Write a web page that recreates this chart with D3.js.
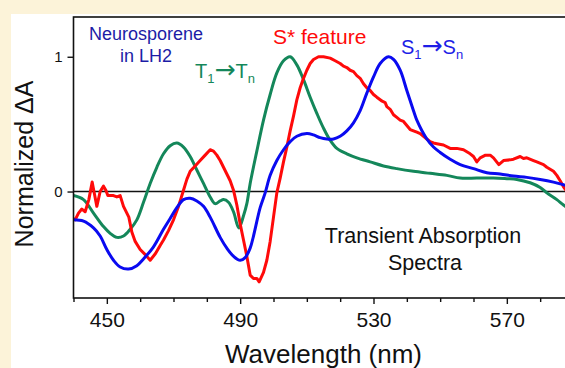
<!DOCTYPE html>
<html>
<head>
<meta charset="utf-8">
<script src="https://cdn.jsdelivr.net/npm/d3@7"></script>
<style>
  html, body { margin: 0; padding: 0; background: #FCF3D9; }
  svg { display: block; }
  text { font-family: "Liberation Sans", Arial, sans-serif; }
</style>
</head>
<body>
<svg id="chart" width="565" height="368"></svg>
<script>
// Wavelength (nm) / normalized ΔA pairs for each transient spectrum
const blueWl = [440,443,446,448,450,452,454,456.5,459,461,464,467,469,471,473,475,477,479,481,484,486,488,490,491.5,493,494,496,497.5,499,501,503,505,507,510,512,514,516,518,520,522,524,526,528,530,532,534.5,536,538,540,542,543,546,548,550,553,556,560,564,568,572,576,580,584,587,590];
const blueVal = [-0.21,-0.22,-0.27,-0.33,-0.43,-0.51,-0.56,-0.575,-0.55,-0.50,-0.41,-0.28,-0.20,-0.12,-0.06,-0.05,-0.07,-0.11,-0.19,-0.34,-0.42,-0.48,-0.51,-0.49,-0.42,-0.33,-0.12,-0.01,0.12,0.23,0.31,0.37,0.41,0.43,0.42,0.40,0.39,0.39,0.41,0.45,0.51,0.60,0.73,0.85,0.95,1.00,0.98,0.90,0.75,0.60,0.53,0.39,0.33,0.29,0.24,0.20,0.17,0.14,0.13,0.115,0.105,0.09,0.07,0.05,0.03];

const greenWl = [440,443,446,449,451,453,455,457,459,461,463,465,467,469,471,473,475,477,479,481,482.5,484,485,486.5,488,489.6,491,492,493,495,497,499,501,503,505,507,509,511,513,515,517,519,522,525,529,533,537,542,547,552,556,561,566,570,573,577,580,582,585,587,590];
const greenVal = [-0.03,-0.06,-0.16,-0.26,-0.31,-0.34,-0.33,-0.28,-0.21,-0.08,0.06,0.18,0.28,0.34,0.36,0.33,0.26,0.16,0.06,-0.04,-0.09,-0.07,-0.06,-0.08,-0.15,-0.27,-0.18,-0.09,0.06,0.30,0.53,0.72,0.88,0.97,1.00,0.94,0.83,0.70,0.58,0.47,0.38,0.32,0.28,0.25,0.22,0.19,0.17,0.15,0.135,0.12,0.10,0.10,0.10,0.095,0.09,0.065,0.03,-0.01,-0.06,-0.10,-0.15];

const redWl = [440,440.5,441.5,442.5,443.5,444.6,445.6,446.3,447,448,449,449.7,450.3,452,453,454,455,456.6,457.5,458.5,460,461.6,463,464.6,466,467,468.5,470,471.5,473,474,475,476.5,478,479.5,481,482,483,484,485,486,487,488,489,490,491,492,493,494,495,495.7,497,498,499,500,501,502,503,504,505,506,507,508,509,510,511,512,513.5,515,517,518.5,520,521,522,523,524,525,526,527,528,529,530,531,532.6,533.5,534,535,536,537,538,539,540,541,542,543,544,545,546,547,548,549,551,553,555,557,559,560,561,562,563.6,565,566,567.6,569,571,572,574,575,576,578,579,581,582,584,585,586,587,588,590];
const redVal = [-0.20,-0.21,-0.16,-0.13,-0.15,-0.06,0.07,-0.02,-0.11,0.00,0.04,0.01,-0.03,-0.03,-0.04,-0.03,-0.11,-0.19,-0.30,-0.37,-0.43,-0.47,-0.51,-0.46,-0.40,-0.36,-0.29,-0.21,-0.11,0.01,0.09,0.15,0.19,0.23,0.27,0.31,0.30,0.27,0.23,0.18,0.13,0.08,0.01,-0.10,-0.24,-0.36,-0.48,-0.62,-0.645,-0.645,-0.67,-0.60,-0.51,-0.37,-0.19,-0.01,0.10,0.22,0.33,0.45,0.56,0.68,0.77,0.84,0.90,0.95,0.98,1.00,1.00,0.99,0.97,0.95,0.93,0.92,0.90,0.89,0.86,0.84,0.80,0.77,0.75,0.72,0.70,0.67,0.66,0.63,0.61,0.57,0.55,0.53,0.52,0.49,0.46,0.45,0.44,0.43,0.41,0.39,0.37,0.36,0.355,0.345,0.32,0.32,0.31,0.28,0.26,0.22,0.25,0.27,0.27,0.25,0.20,0.23,0.235,0.24,0.26,0.245,0.25,0.23,0.22,0.20,0.18,0.15,0.12,0.08,0.035,0.0,-0.04];

const xMajorTicks = [450, 490, 530, 570];
const xMinorTicks = [440, 460, 470, 480, 500, 510, 520, 540, 550, 560, 580, 590];
const yTicks = [0, 1];

const svg = d3.select("#chart");

// white panel behind the figure
svg.append("rect")
  .attr("x", 11).attr("y", 14)
  .attr("width", 565).attr("height", 368)
  .attr("fill", "#ffffff");

const plotL = 73.5, plotR = 573.5, plotT = 17, plotB = 298;
const x = d3.scaleLinear().domain([440, 590]).range([plotL, plotR]);
const y = d3.scaleLinear().domain([-0.79, 1.295]).range([plotB, plotT]);

svg.append("defs").append("clipPath").attr("id", "plotClip")
  .append("rect").attr("x", plotL).attr("y", plotT)
  .attr("width", plotR - plotL).attr("height", plotB - plotT);

// zero baseline
svg.append("line")
  .attr("x1", plotL).attr("x2", plotR)
  .attr("y1", y(0)).attr("y2", y(0))
  .attr("stroke", "#111").attr("stroke-width", 1.4);

const plot = svg.append("g").attr("clip-path", "url(#plotClip)");

function drawSeries(wl, vals, color, curve) {
  const pts = wl.map((w, i) => [w, vals[i]]);
  const line = d3.line().x(d => x(d[0])).y(d => y(d[1])).curve(curve);
  plot.append("path")
    .datum(pts)
    .attr("d", line)
    .attr("fill", "none")
    .attr("stroke", color)
    .attr("stroke-width", 3)
    .attr("stroke-linejoin", "round");
}

drawSeries(greenWl, greenVal, "#14875A", d3.curveCatmullRom);
drawSeries(redWl, redVal, "#FF0A0A", d3.curveLinear);
drawSeries(blueWl, blueVal, "#0A0AF0", d3.curveCatmullRom);

// frame
svg.append("rect")
  .attr("x", plotL).attr("y", plotT)
  .attr("width", plotR - plotL).attr("height", plotB - plotT)
  .attr("fill", "none").attr("stroke", "#111").attr("stroke-width", 1.6);

// x axis: major labelled ticks
const xAxis = svg.append("g")
  .attr("transform", `translate(0,${plotB})`)
  .call(d3.axisBottom(x).tickValues(xMajorTicks).tickSize(6).tickSizeOuter(0).tickPadding(8).tickFormat(d3.format("d")));
xAxis.select(".domain").remove();
xAxis.selectAll("line").attr("stroke", "#111").attr("stroke-width", 1.4);
xAxis.selectAll("text").attr("font-size", 21).attr("fill", "#111")
  .attr("font-family", "Liberation Sans, Arial, sans-serif");

// x axis: minor ticks
const xMinor = svg.append("g")
  .attr("transform", `translate(0,${plotB})`)
  .call(d3.axisBottom(x).tickValues(xMinorTicks).tickSize(4).tickSizeOuter(0).tickFormat(""));
xMinor.select(".domain").remove();
xMinor.selectAll("line").attr("stroke", "#111").attr("stroke-width", 1.4);

// y axis
const yAxis = svg.append("g")
  .attr("transform", `translate(${plotL},0)`)
  .call(d3.axisLeft(y).tickValues(yTicks).tickSize(6).tickSizeOuter(0).tickPadding(5).tickFormat(d3.format("d")));
yAxis.select(".domain").remove();
yAxis.selectAll("line").attr("stroke", "#111").attr("stroke-width", 1.4);
yAxis.selectAll("text").attr("font-size", 15).attr("fill", "#111")
  .attr("font-family", "Liberation Sans, Arial, sans-serif");

// axis titles
svg.append("text")
  .attr("x", (plotL + plotR) / 2).attr("y", 363)
  .attr("text-anchor", "middle").attr("font-size", 26).attr("fill", "#111")
  .text("Wavelength (nm)");

svg.append("text")
  .attr("transform", "translate(33,164) rotate(-90)")
  .attr("text-anchor", "middle").attr("font-size", 25).attr("fill", "#111")
  .text("Normalized ΔA");

// annotations
const note = svg.append("g");
note.append("text").attr("x", 146).attr("y", 40).attr("text-anchor", "middle")
  .attr("font-size", 18).attr("fill", "#1C1CA6").text("Neurosporene");
note.append("text").attr("x", 146).attr("y", 62).attr("text-anchor", "middle")
  .attr("font-size", 18).attr("fill", "#1C1CA6").text("in LH2");

// transition label: X_a → X_b with subscripts and a full-size arrow
function transition(xPos, yPos, letter, color) {
  const t = note.append("text").attr("x", xPos).attr("y", yPos)
    .attr("font-size", 20).attr("fill", color);
  t.append("tspan").text(letter);
  t.append("tspan").attr("font-size", 13).attr("dy", 5).text("1");
  t.append("tspan").attr("dy", -5).attr("font-family", "DejaVu Sans")
    .attr("font-size", 25).text("→");
  t.append("tspan").text(letter);
  t.append("tspan").attr("font-size", 13).attr("dy", 5).text("n");
}
transition(195, 78, "T", "#14875A");
transition(401, 54, "S", "#1E1EE6");

note.append("text").attr("x", 273).attr("y", 44)
  .attr("font-size", 21).attr("fill", "#FF0A0A").text("S* feature");

note.append("text").attr("x", 423).attr("y", 243).attr("text-anchor", "middle")
  .attr("font-size", 21.5).attr("fill", "#111").text("Transient Absorption");
note.append("text").attr("x", 425).attr("y", 270).attr("text-anchor", "middle")
  .attr("font-size", 21.5).attr("fill", "#111").text("Spectra");
</script>
</body>
</html>
